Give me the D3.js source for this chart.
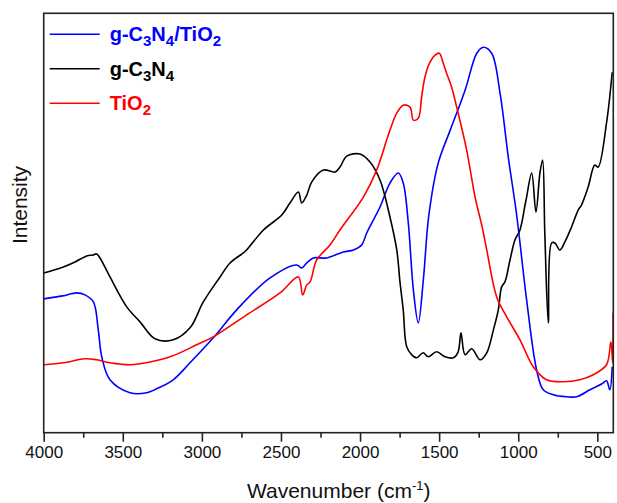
<!DOCTYPE html>
<html>
<head>
<meta charset="utf-8">
<script src="https://cdn.jsdelivr.net/npm/d3@7"></script>
<style>
  body { margin: 0; background: #fff; }
  text { font-family: "Liberation Sans", Arial, sans-serif; }
</style>
</head>
<body>
<div id="chart"></div>
<script>
// wavenumber (cm-1) / intensity (a.u.)
var compWn  = [4000, 3880, 3792, 3739, 3686, 3655, 3633, 3581, 3454, 3349, 3286, 3181, 3075, 2928, 2780, 2569, 2400, 2369, 2337, 2295, 2211, 2106, 2042, 1990, 1958, 1874, 1811, 1758, 1727, 1695, 1663, 1632, 1600, 1565, 1506, 1430, 1336, 1262, 1221, 1168, 1115, 1063, 1010, 947, 884, 842, 779, 694, 631, 547, 470, 442, 421, 406];
var compVal = [134, 137, 140, 138, 131, 103, 76, 53, 40, 40, 44, 53, 70, 95, 123, 155, 168, 165, 170, 175, 175, 181, 183, 188, 200, 226, 250, 260, 250, 210, 143, 110, 153, 218, 270, 303, 343, 380, 386, 380, 340, 276, 218, 133, 63, 43, 38, 36, 36, 43, 49, 52, 43, 66];

var cnWn  = [4000, 3876, 3802, 3728, 3690, 3665, 3644, 3581, 3475, 3391, 3296, 3181, 3075, 2991, 2885, 2822, 2738, 2717, 2611, 2495, 2443, 2390, 2369, 2337, 2306, 2232, 2158, 2127, 2084, 2000, 1937, 1874, 1811, 1768, 1747, 1727, 1705, 1673, 1642, 1601, 1569, 1516, 1463, 1410, 1380, 1362, 1336, 1294, 1241, 1199, 1157, 1126, 1105, 1084, 1052, 1021, 989, 957, 947, 915, 888, 863, 846, 832, 810, 789, 768, 737, 705, 663, 621, 600, 558, 516, 495, 442, 406];
var cnVal = [160, 166, 171, 177, 178, 179, 175, 156, 126, 111, 94, 93, 105, 131, 156, 170, 180, 183, 203, 218, 230, 241, 230, 238, 251, 263, 261, 266, 277, 279, 271, 253, 216, 183, 150, 123, 86, 78, 75, 80, 76, 81, 76, 75, 81, 100, 78, 84, 73, 80, 103, 123, 146, 151, 173, 193, 203, 228, 236, 260, 221, 260, 273, 200, 110, 190, 190, 183, 191, 206, 223, 228, 246, 268, 266, 310, 361];

var tiWn  = [4000, 3876, 3739, 3665, 3581, 3454, 3391, 3201, 3033, 2928, 2717, 2506, 2390, 2363, 2337, 2316, 2274, 2190, 2127, 1979, 1895, 1832, 1811, 1768, 1727, 1684, 1663, 1632, 1611, 1590, 1558, 1526, 1499, 1474, 1453, 1421, 1389, 1326, 1273, 1231, 1199, 1136, 1073, 989, 905, 821, 716, 610, 526, 442, 414, 403, 400];
var tiVal = [68, 70, 74, 73, 70, 68, 69, 76, 88, 96, 118, 140, 156, 138, 148, 151, 173, 188, 203, 236, 263, 293, 303, 320, 328, 326, 313, 315, 336, 356, 371, 378, 380, 370, 360, 346, 326, 283, 236, 208, 183, 136, 116, 93, 66, 53, 51, 53, 58, 68, 91, 70, 120];

var majorTicks = [4000, 3500, 3000, 2500, 2000, 1500, 1000, 500];
var minorTicks = [3750, 3250, 2750, 2250, 1750, 1250, 750];

var series = [
  {name: 'g-C3N4/TiO2', parts: [['g-C', false], ['3', true], ['N', false], ['4', true], ['/TiO', false], ['2', true]], color: '#0000ff', wn: compWn, val: compVal},
  {name: 'g-C3N4', parts: [['g-C', false], ['3', true], ['N', false], ['4', true]], color: '#000000', wn: cnWn, val: cnVal},
  {name: 'TiO2', parts: [['TiO', false], ['2', true]], color: '#ff0000', wn: tiWn, val: tiVal}
];

var W = 617, H = 503;
var margin = {top: 13.3, right: 3.7, bottom: 70.3, left: 43.7},
    width = W - margin.left - margin.right,
    height = H - margin.top - margin.bottom;

var x = d3.scaleLinear().domain([4000, 399]).range([0, width]);
var y = d3.scaleLinear().domain([0, 420]).range([height, 0]);

var svg = d3.select('#chart').append('svg')
    .attr('width', W)
    .attr('height', H)
  .append('g')
    .attr('transform', 'translate(' + margin.left + ',' + margin.top + ')');

svg.append('clipPath').attr('id', 'clip')
  .append('rect').attr('width', width).attr('height', height);

var line = d3.line()
    .x(function(d) { return x(d[0]); })
    .y(function(d) { return y(d[1]); })
    .curve(d3.curveCatmullRom.alpha(0.5));

svg.selectAll('.spec')
    .data(series)
  .enter().append('path')
    .attr('class', 'spec')
    .attr('clip-path', 'url(#clip)')
    .attr('fill', 'none')
    .attr('stroke', function(d) { return d.color; })
    .attr('stroke-width', 1.6)
    .attr('stroke-linejoin', 'round')
    .attr('d', function(d) { return line(d.wn.map(function(w, i) { return [w, d.val[i]]; })); });

// frame
svg.append('rect')
    .attr('width', width)
    .attr('height', height)
    .attr('fill', 'none')
    .attr('stroke', '#222')
    .attr('stroke-width', 1.6);

// bottom axis, major + minor ticks
var xAxis = svg.append('g')
    .attr('transform', 'translate(0,' + height + ')')
    .call(d3.axisBottom(x).tickValues(majorTicks).tickFormat(d3.format('d'))
      .tickSize(9).tickSizeOuter(0).tickPadding(4));
xAxis.select('.domain').remove();
xAxis.selectAll('line').attr('stroke', '#222').attr('stroke-width', 1.6);
xAxis.selectAll('text')
    .attr('fill', '#111')
    .style('font-family', '"Liberation Sans", Arial, sans-serif')
    .style('font-size', '17px');

var xMinor = svg.append('g')
    .attr('transform', 'translate(0,' + height + ')')
    .call(d3.axisBottom(x).tickValues(minorTicks).tickSize(5).tickSizeOuter(0).tickFormat(''));
xMinor.select('.domain').remove();
xMinor.selectAll('line').attr('stroke', '#222').attr('stroke-width', 1.6);

// axis titles
var xt = svg.append('text')
    .attr('x', 295)
    .attr('y', height + 65)
    .attr('text-anchor', 'middle')
    .attr('fill', '#111')
    .style('font-size', '21px');
xt.append('tspan').text('Wavenumber (cm');
xt.append('tspan').attr('dy', -8).style('font-size', '13px').text('-1');
xt.append('tspan').attr('dy', 8).text(')');

svg.append('text')
    .attr('transform', 'translate(-17,' + (205 - margin.top) + ') rotate(-90)')
    .attr('text-anchor', 'middle')
    .attr('fill', '#111')
    .style('font-size', '21px')
    .text('Intensity');

// legend
var legend = svg.selectAll('.legend')
    .data(series)
  .enter().append('g')
    .attr('class', 'legend')
    .attr('transform', function(d, i) { return 'translate(0,' + (21 + i * 34.5) + ')'; });

legend.append('line')
    .attr('x1', 6).attr('x2', 56)
    .attr('stroke', function(d) { return d.color; })
    .attr('stroke-width', 1.6);

var lt = legend.append('text')
    .attr('x', 66)
    .attr('y', 7)
    .attr('fill', function(d) { return d.color; })
    .style('font-size', '20px')
    .style('font-weight', 'bold');

lt.each(function(d) {
  var t = d3.select(this), low = false;
  d.parts.forEach(function(p) {
    var s = t.append('tspan').text(p[0]);
    if (p[1] && !low) { s.attr('dy', 5).style('font-size', '15px'); low = true; }
    else if (p[1]) { s.style('font-size', '15px'); }
    else if (low) { s.attr('dy', -5); low = false; }
  });
});
</script>
</body>
</html>
